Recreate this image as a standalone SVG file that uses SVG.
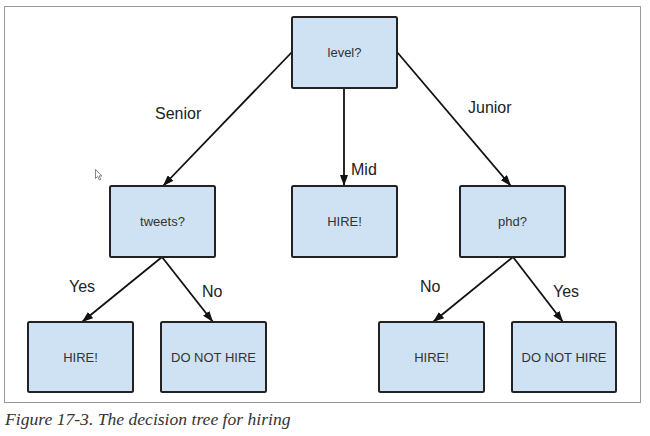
<svg xmlns="http://www.w3.org/2000/svg" width="650" height="436" viewBox="0 0 650 436">
<style>
.box{fill:#cfe2f3;stroke:#222;stroke-width:2}
.nt{font-family:"Liberation Sans",Arial,sans-serif;font-size:13px;fill:#333;text-anchor:middle}
.el{font-family:"Liberation Sans",Arial,sans-serif;font-size:16px;fill:#222}
.edge{stroke:#111;stroke-width:1.8;fill:none;marker-end:url(#arr)}
.cap{font-family:"Liberation Serif","Times New Roman",serif;font-style:italic;font-size:17.6px;fill:#333}
</style>
<defs>
<marker id="arr" viewBox="0 0 11 8" refX="11" refY="4" markerWidth="11" markerHeight="8" markerUnits="userSpaceOnUse" orient="auto">
<path d="M0,0 L11,4 L0,8 Z" fill="#111"/>
</marker>
</defs>
<rect x="0" y="0" width="650" height="436" fill="#fff"/>
<rect x="4.5" y="6.5" width="636" height="396" fill="#fff" stroke="#999" stroke-width="1"/>
<g id="connectors">
<line class="edge" x1="292" y1="52" x2="163" y2="186"/>
<line class="edge" x1="344" y1="88" x2="344" y2="186"/>
<line class="edge" x1="397" y1="52" x2="511" y2="186"/>
<line class="edge" x1="162" y1="257" x2="82" y2="322"/>
<line class="edge" x1="162" y1="257" x2="213" y2="322"/>
<line class="edge" x1="513" y1="257" x2="433" y2="322"/>
<line class="edge" x1="513" y1="257" x2="563" y2="322"/>
<text class="el" x="155" y="119">Senior</text>
<text class="el" x="351" y="175">Mid</text>
<text class="el" x="468" y="113">Junior</text>
<text class="el" x="69" y="292">Yes</text>
<text class="el" x="202" y="297">No</text>
<text class="el" x="420" y="292">No</text>
<text class="el" x="553" y="297">Yes</text>
</g>
<g id="n-level"><rect class="box" x="292" y="17" width="105" height="71" rx="1.5"/><text class="nt" x="344.5" y="57">level?</text></g>
<g id="n-tweets"><rect class="box" x="110" y="186" width="105" height="71" rx="1.5"/><text class="nt" x="162.5" y="226">tweets?</text></g>
<g id="n-mid-hire"><rect class="box" x="292" y="186" width="105" height="71" rx="1.5"/><text class="nt" x="344.5" y="226">HIRE!</text></g>
<g id="n-phd"><rect class="box" x="460" y="186" width="105" height="71" rx="1.5"/><text class="nt" x="512.5" y="226">phd?</text></g>
<g id="n-hire1"><rect class="box" x="28" y="322" width="105" height="70" rx="1.5"/><text class="nt" x="80.5" y="362">HIRE!</text></g>
<g id="n-nohire1"><rect class="box" x="161" y="322" width="105" height="70" rx="1.5"/><text class="nt" x="213.5" y="362">DO NOT HIRE</text></g>
<g id="n-hire2"><rect class="box" x="379" y="322" width="105" height="70" rx="1.5"/><text class="nt" x="431.5" y="362">HIRE!</text></g>
<g id="n-nohire2"><rect class="box" x="512" y="322" width="104" height="70" rx="1.5"/><text class="nt" x="564" y="362">DO NOT HIRE</text></g>
<path d="M95.5,169.5 L95.5,178.5 L97.5,176.5 L99.5,180 L100.8,179.3 L99,176 L102,176 Z" fill="#fff" stroke="#666" stroke-width="0.8"/>
<text class="cap" x="5" y="425">Figure 17-3. The decision tree for hiring</text>
</svg>
